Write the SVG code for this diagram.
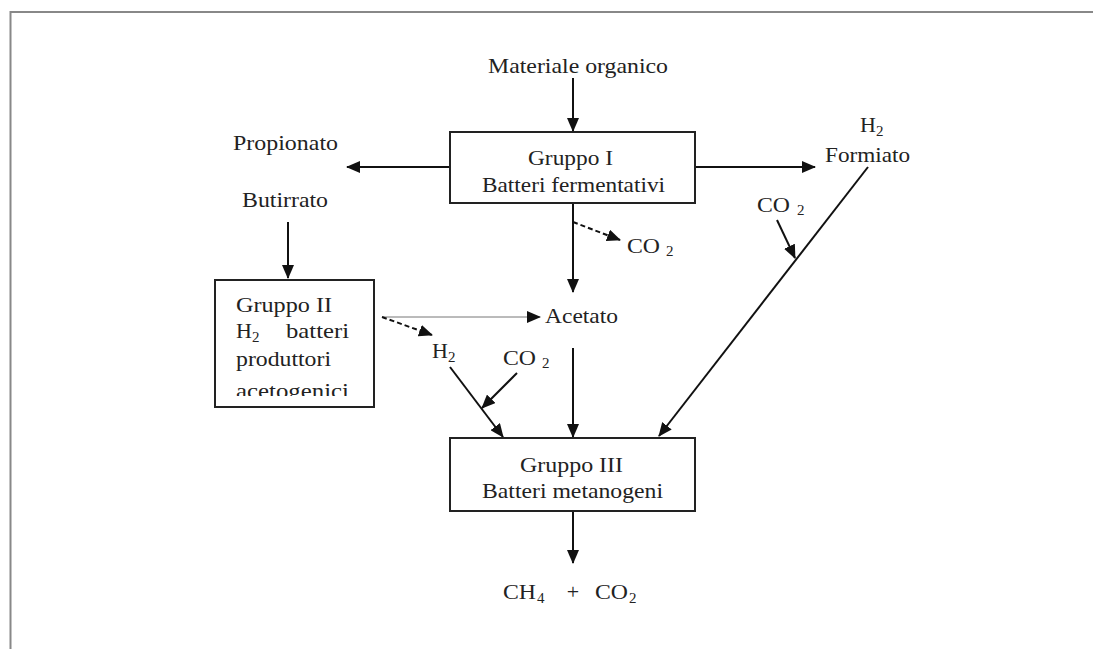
<svg xmlns="http://www.w3.org/2000/svg" width="1093" height="649" viewBox="0 0 1093 649">
<style>
text{font-family:"Liberation Serif","Times New Roman",serif;font-size:22px;fill:#222}
.sub{font-size:15px}
.box{fill:#fff;stroke:#222;stroke-width:2}
.c{stroke:#111;stroke-width:2;fill:none}
.thin{stroke:#777;stroke-width:1;fill:none}
.dash{stroke:#111;stroke-width:2;fill:none;stroke-dasharray:5 3}
</style>
<defs>
<marker id="ah" markerUnits="userSpaceOnUse" markerWidth="14" markerHeight="12" refX="13" refY="6" orient="auto">
<path d="M0,0 L14,6 L0,12 z" fill="#111"/>
</marker>
<clipPath id="clip2"><rect x="215" y="280" width="159" height="116"/></clipPath>
</defs>
<rect width="1093" height="649" fill="#fff"/>
<g id="frame">
<path d="M10.5,649 V12 H1093" fill="none" stroke="#888" stroke-width="2"/>
</g>
<g id="connectors">
<line class="c" x1="573" y1="78" x2="573" y2="131" marker-end="url(#ah)"/>
<line class="c" x1="450" y1="167" x2="347" y2="167" marker-end="url(#ah)"/>
<line class="c" x1="695" y1="167" x2="815" y2="167" marker-end="url(#ah)"/>
<line class="c" x1="288" y1="222" x2="288" y2="278" marker-end="url(#ah)"/>
<line class="c" x1="573" y1="203" x2="573" y2="292" marker-end="url(#ah)"/>
<line class="dash" x1="573" y1="222" x2="620" y2="240" marker-end="url(#ah)"/>
<line class="thin" x1="382" y1="317" x2="540" y2="317" marker-end="url(#ah)"/>
<line class="dash" x1="382" y1="317" x2="432" y2="335" marker-end="url(#ah)"/>
<line class="c" x1="450" y1="367" x2="503" y2="437" marker-end="url(#ah)"/>
<line class="c" x1="517" y1="373" x2="482" y2="408" marker-end="url(#ah)"/>
<line class="c" x1="573" y1="348" x2="573" y2="437" marker-end="url(#ah)"/>
<line class="c" x1="868" y1="167" x2="659" y2="436" marker-end="url(#ah)"/>
<line class="c" x1="777" y1="220" x2="795" y2="258" marker-end="url(#ah)"/>
<line class="c" x1="573" y1="511" x2="573" y2="563" marker-end="url(#ah)"/>
</g>
<g id="materiale">
<text x="488" y="73" textLength="180" lengthAdjust="spacingAndGlyphs">Materiale organico</text>
</g>
<g id="gruppo1">
<rect class="box" x="450" y="132" width="245" height="71"/>
<text x="528" y="165" textLength="85" lengthAdjust="spacingAndGlyphs">Gruppo I</text>
<text x="482" y="192" textLength="183" lengthAdjust="spacingAndGlyphs">Batteri fermentativi</text>
</g>
<g id="propionato">
<text x="233" y="150" textLength="105" lengthAdjust="spacingAndGlyphs">Propionato</text>
</g>
<g id="butirrato">
<text x="242" y="207" textLength="86" lengthAdjust="spacingAndGlyphs">Butirrato</text>
</g>
<g id="h2formiato">
<text x="860" y="132">H<tspan class="sub" dy="4">2</tspan></text>
<text x="825" y="162" textLength="85" lengthAdjust="spacingAndGlyphs">Formiato</text>
</g>
<g id="co2right">
<text x="757" y="212" textLength="33" lengthAdjust="spacingAndGlyphs">CO</text>
<text class="sub" x="797" y="215">2</text>
</g>
<g id="co2top">
<text x="627" y="253" textLength="33" lengthAdjust="spacingAndGlyphs">CO</text>
<text class="sub" x="666" y="256">2</text>
</g>
<g id="gruppo2">
<rect class="box" x="215" y="280" width="159" height="127"/>
<g clip-path="url(#clip2)">
<text x="236" y="312" textLength="96" lengthAdjust="spacingAndGlyphs">Gruppo II</text>
<text x="236" y="338">H<tspan class="sub" dy="4">2</tspan></text>
<text x="286" y="338" textLength="63" lengthAdjust="spacingAndGlyphs">batteri</text>
<text x="236" y="366" textLength="95" lengthAdjust="spacingAndGlyphs">produttori</text>
<text x="236" y="398" textLength="113" lengthAdjust="spacingAndGlyphs">acetogenici</text>
</g>
</g>
<g id="acetato">
<text x="545" y="323" textLength="73" lengthAdjust="spacingAndGlyphs">Acetato</text>
</g>
<g id="h2left">
<text x="432" y="358">H<tspan class="sub" dy="4">2</tspan></text>
</g>
<g id="co2mid">
<text x="503" y="365" textLength="33" lengthAdjust="spacingAndGlyphs">CO</text>
<text class="sub" x="542" y="368">2</text>
</g>
<g id="gruppo3">
<rect class="box" x="450" y="438" width="245" height="73"/>
<text x="520" y="472" textLength="103" lengthAdjust="spacingAndGlyphs">Gruppo III</text>
<text x="482" y="498" textLength="181" lengthAdjust="spacingAndGlyphs">Batteri metanogeni</text>
</g>
<g id="prodotti">
<text x="503" y="599" textLength="33" lengthAdjust="spacingAndGlyphs">CH</text>
<text class="sub" x="537" y="603">4</text>
<text x="573" y="599" text-anchor="middle">+</text>
<text x="595" y="599" textLength="33" lengthAdjust="spacingAndGlyphs">CO</text>
<text class="sub" x="629" y="603">2</text>
</g>
</svg>
